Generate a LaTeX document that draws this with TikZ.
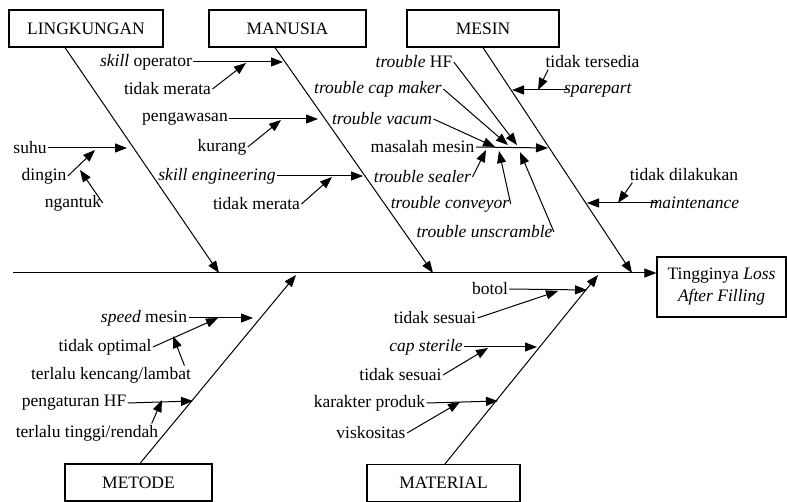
\documentclass[tikz,border=0pt]{standalone}
\usepackage{fontspec}
\setmainfont{Liberation Serif}
\usetikzlibrary{arrows.meta}

\begin{document}
\begin{tikzpicture}
  [x=1pt,y=-1pt,line width=1pt,>={Triangle[length=12pt,width=9pt]},
   every node/.style={font=\fontsize{17.5}{22}\selectfont,inner sep=1pt},
   kat/.style={draw,line width=1.2pt,minimum height=37pt,inner sep=0pt}]
  \useasboundingbox (0,0) rectangle (787,502);

  \node[kat,minimum width=154pt] (lk) at (86,28.5)    {LINGKUNGAN};
  \node[kat,minimum width=157pt] (mn) at (287.5,28.5) {MANUSIA};
  \node[kat,minimum width=152pt] (ms) at (483,28.5)   {MESIN};
  \node[kat,minimum width=147pt] (mt) at (138.5,482.5) {METODE};
  \node[kat,minimum width=153pt] (ml) at (443.5,483)  {MATERIAL};
  \node[kat,minimum width=129pt,minimum height=60pt,align=center] (hasil) at (721.5,287)
    {Tingginya \textit{Loss}\\\textit{After Filling}};

  \coordinate (ekor) at (13,273);
  \draw[->] (ekor) -- (ekor -| hasil.west);

  \draw[->] (lk.south -| 65,0)  -- (219,273);
  \draw[->] (mn.south -| 275,0) -- (433,273);
  \draw[->] (ms.south -| 483,0) -- (632,273);
  \draw[->] (mt.north -| 140,0) -- (296,275);
  \draw[->] (ml.north -| 445,0) -- (598,275);

  % lingkungan
  \node (suhu) at (30,148)   {suhu};
  \node (dgn)  at (44,176)   {dingin};
  \node (ngt)  at (73,203)   {ngantuk};
  \draw[->] (suhu.east) -- (127,148);
  \draw[->] (dgn.east)  -- (95,150);
  \draw[->] (ngt.east)  -- (80,170);

  % manusia
  \node (so)  at (146,62)    {\textit{skill} operator};
  \node (tm1) at (167.5,89)  {tidak merata};
  \node (pw)  at (185,119)   {pengawasan};
  \node (kr)  at (222,147)   {kurang};
  \node (se)  at (217,176)   {\textit{skill engineering}};
  \node (tm2) at (256.5,204) {tidak merata};
  \draw[->] (so.east)  -- (283,62);
  \draw[->] (tm1.east) -- (246,63);
  \draw[->] (pw.east)  -- (318,119);
  \draw[->] (kr.east)  -- (281,120);
  \draw[->] (se.east)  -- (363,176);
  \draw[->] (tm2.east) -- (332,177);

  % mesin
  \node (thf) at (414,62)    {\textit{trouble} HF};
  \node (tcm) at (378,89)    {\textit{trouble cap maker}};
  \node (tv)  at (382,119)   {\textit{trouble vacum}};
  \node (mm)  at (422.5,147) {masalah mesin};
  \node (tsl) at (422.5,177) {\textit{trouble sealer}};
  \node (tcv) at (450,204)   {\textit{trouble conveyor}};
  \node (tus) at (484.5,232) {\textit{trouble unscramble}};
  \node (tts) at (592.5,62)  {tidak tersedia};
  \node (spp) at (598,90)    {\textit{sparepart}};
  \node (tdl) at (684,175)   {tidak dilakukan};
  \node (mtn) at (694.5,203) {\textit{maintenance}};
  \draw[->] (thf.east) -- (517,145);
  \draw[->] (tcm.east) -- (508,145);
  \draw[->] (tv.east)  -- (495,147);
  \draw[->] (mm.east)  -- (548,148);
  \draw[->] (tsl.east) -- (486,150);
  \draw[->] (tcv.east) -- (499,151);
  \draw[->] (tus.east) -- (520,152);
  \draw[->] ([xshift=4pt]tts.south west) -- (538,90);
  \draw[->] ([xshift=4pt]spp.west) -- (512,90);
  \draw[->] ([xshift=4pt]tdl.south west) -- (618,203);
  \draw[->] ([xshift=10pt]mtn.west) -- (587,203);

  % metode
  \node (sm)  at (144,318)  {\textit{speed} mesin};
  \node (top) at (105,347)  {tidak optimal};
  \node (tkl) at (111,375)  {terlalu kencang/lambat};
  \node (phf) at (74,403)   {pengaturan HF};
  \node (ttr) at (87,433)   {terlalu tinggi/rendah};
  \draw[->] (sm.east)  -- (253,318);
  \draw[->] (top.east) -- (218,318);
  \draw[->] ([xshift=-8pt]tkl.north east) -- (173,336);
  \draw[->] (phf.east) -- (193,401);
  \draw[->] ([xshift=-8pt]ttr.north east) -- (162,400);

  % material
  \node (btl) at (490,289)   {botol};
  \node (ts1) at (435,318)   {tidak sesuai};
  \node (cst) at (426,347)   {\textit{cap sterile}};
  \node (ts2) at (400.5,375) {tidak sesuai};
  \node (kpr) at (369.5,403) {karakter produk};
  \node (vks) at (371,433)   {viskositas};
  \draw[->] (btl.east) -- (587,290);
  \draw[->] (ts1.east) -- (558,291);
  \draw[->] (cst.east) -- (537,347);
  \draw[->] (ts2.east) -- (488,348);
  \draw[->] (kpr.east) -- (498,401);
  \draw[->] (vks.east) -- (460,402);
\end{tikzpicture}
\end{document}
